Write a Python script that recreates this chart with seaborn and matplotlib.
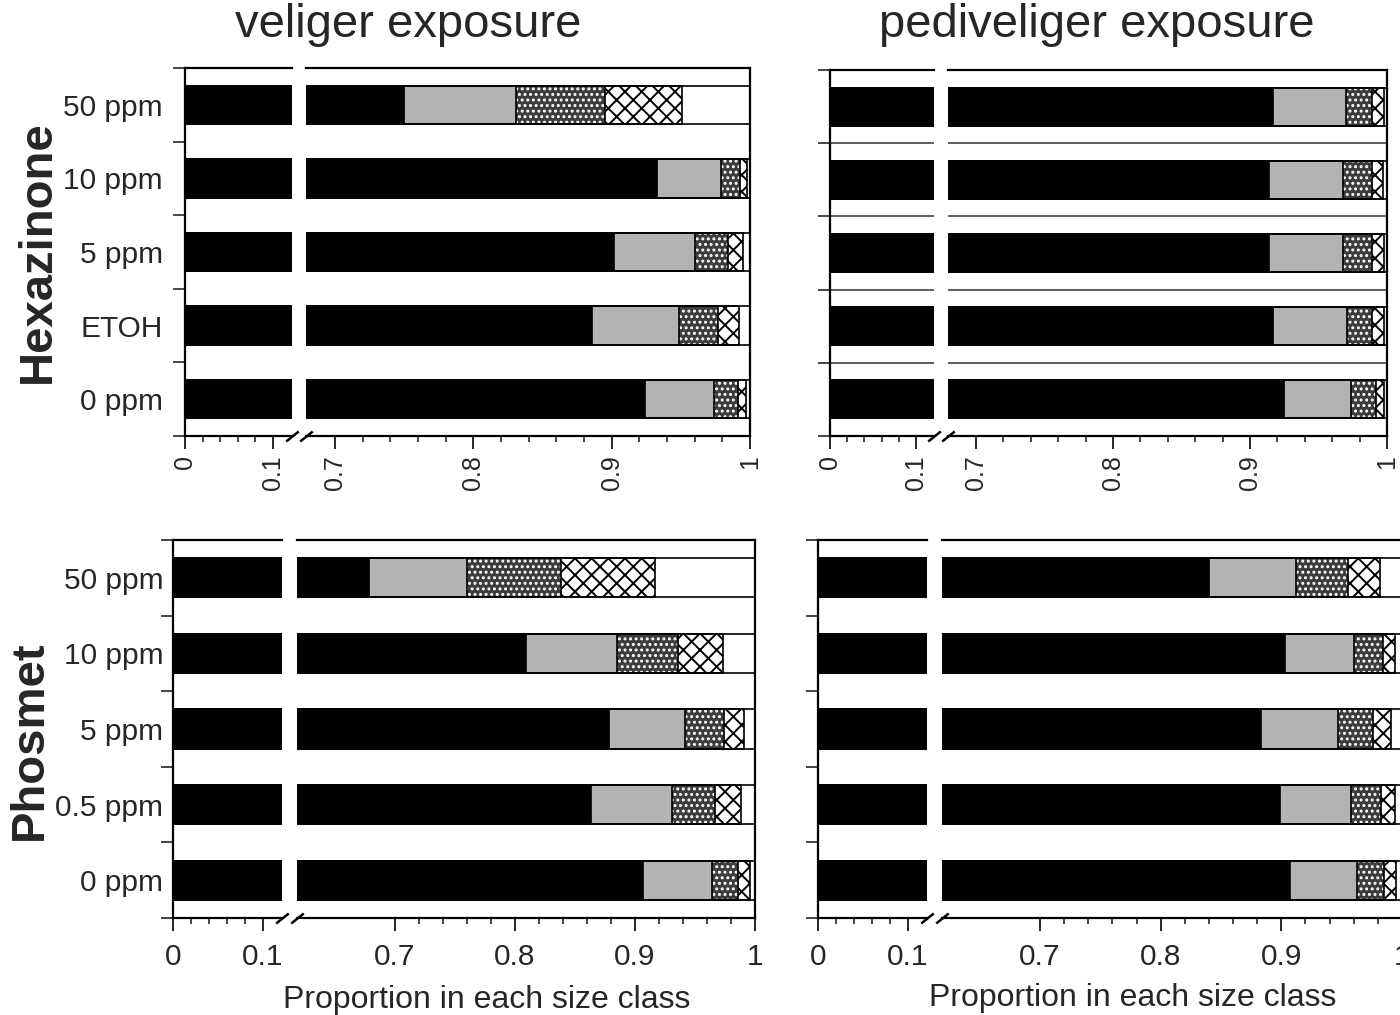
import numpy as np
import matplotlib.pyplot as plt
import seaborn as sns

sns.set_style("ticks")
plt.rcParams['font.family'] = ['Liberation Sans', 'DejaVu Sans']
plt.rcParams['hatch.linewidth'] = 1.4

# categories (top to bottom)
hex_cats = ["50 ppm", "10 ppm", "5 ppm", "ETOH", "0 ppm"]
pho_cats = ["50 ppm", "10 ppm", "5 ppm", "0.5 ppm", "0 ppm"]

# proportion in each size class (class 1 = smallest ... class 5)
vel_hex_c1 = [0.750, 0.933, 0.902, 0.886, 0.924]
vel_hex_c2 = [0.081, 0.046, 0.058, 0.063, 0.050]
vel_hex_c3 = [0.064, 0.014, 0.024, 0.028, 0.017]
vel_hex_c4 = [0.056, 0.005, 0.011, 0.015, 0.006]
vel_hex_c5 = [0.049, 0.002, 0.005, 0.008, 0.003]

ped_hex_c1 = [0.917, 0.914, 0.914, 0.917, 0.925]
ped_hex_c2 = [0.053, 0.054, 0.054, 0.054, 0.049]
ped_hex_c3 = [0.019, 0.021, 0.021, 0.018, 0.018]
ped_hex_c4 = [0.009, 0.008, 0.009, 0.009, 0.006]
ped_hex_c5 = [0.002, 0.003, 0.002, 0.002, 0.002]

vel_pho_c1 = [0.678, 0.809, 0.878, 0.863, 0.907]
vel_pho_c2 = [0.082, 0.076, 0.064, 0.068, 0.057]
vel_pho_c3 = [0.078, 0.051, 0.032, 0.036, 0.022]
vel_pho_c4 = [0.079, 0.037, 0.017, 0.021, 0.010]
vel_pho_c5 = [0.083, 0.027, 0.009, 0.012, 0.004]

ped_pho_c1 = [0.840, 0.903, 0.883, 0.899, 0.907]
ped_pho_c2 = [0.072, 0.057, 0.064, 0.059, 0.056]
ped_pho_c3 = [0.043, 0.024, 0.029, 0.025, 0.022]
ped_pho_c4 = [0.027, 0.010, 0.015, 0.011, 0.010]
ped_pho_c5 = [0.018, 0.006, 0.009, 0.006, 0.005]

left_ticks = [0, 0.1]
left_labels = ["0", "0.1"]
right_ticks = [0.7, 0.8, 0.9, 1.0]
right_labels = ["0.7", "0.8", "0.9", "1"]

# fill style per class: facecolor, hatch, hatch colour
class_styles = [("black", None, "black"),
                ("#b3b3b3", None, "#b3b3b3"),
                ("#3c3c3c", "...", "white"),
                ("white", "xx", "black"),
                ("white", None, "white")]

W, H = 1400, 1015
fig = plt.figure(figsize=(W / 100, H / 100), dpi=100)


def px_axes(x0, x1, y0, y1):
    return fig.add_axes([x0 / W, 1 - y1 / H, (x1 - x0) / W, (y1 - y0) / H])


def draw_panel(classes, cats, xl, xr, yb, lims, show_cats, rotate, grid):
    axL = px_axes(xl[0], xl[1], yb[0], yb[1])
    axR = px_axes(xr[0], xr[1], yb[0], yb[1])
    cum = np.cumsum(np.array(classes), axis=0)
    n = len(cats)
    for ax in (axL, axR):
        # stacked bars: draw cumulative totals from the outside in
        for level in range(len(classes) - 1, -1, -1):
            fc, hatch, hc = class_styles[level]
            sns.barplot(x=cum[level], y=cats, order=cats, orient="y",
                        color=fc, hatch=hatch, edgecolor=hc, linewidth=0,
                        width=0.52, saturation=1, errorbar=None, ax=ax)
        for level in range(len(classes)):
            sns.barplot(x=cum[level], y=cats, order=cats, orient="y",
                        color="black", fill=False, linewidth=1.2,
                        width=0.52, saturation=1, errorbar=None, ax=ax)
        ax.set_ylim(n - 0.5, -0.5)
        ax.set_xlabel("")
        ax.set_ylabel("")
        for sp in ax.spines.values():
            sp.set_linewidth(1.6)
            sp.set_color("black")
        ax.set_yticks(np.arange(n + 1) - 0.5, minor=True)
        if grid:
            ax.grid(which="minor", axis="y", color="#333333", lw=1.1)
            ax.set_axisbelow(True)
    axL.set_xlim(0, lims[0])
    axR.set_xlim(lims[1], 1.0)
    axL.spines["right"].set_visible(False)
    axR.spines["left"].set_visible(False)

    axL.set_xticks(left_ticks)
    axL.set_xticklabels(left_labels)
    axL.set_xticks([0.02, 0.04, 0.06, 0.08], minor=True)
    axR.set_xticks(right_ticks)
    axR.set_xticklabels(right_labels)
    axR.set_xticks([0.72, 0.74, 0.76, 0.78, 0.82, 0.84, 0.86, 0.88,
                    0.92, 0.94, 0.96, 0.98], minor=True)
    fs = 18 if rotate else 21.5
    for ax in (axL, axR):
        ax.tick_params(axis="x", which="major", length=9, width=1.4,
                       labelsize=fs, pad=5 if rotate else 9,
                       labelrotation=90 if rotate else 0)
        ax.tick_params(axis="x", which="minor", length=4, width=1.2)

    axL.set_yticks(range(n))
    axL.set_yticklabels(cats if show_cats else [])
    axL.tick_params(axis="y", which="major", length=0, labelsize=21.5,
                    pad=16 if rotate else 7)
    axL.tick_params(axis="y", which="minor", length=9, width=1.2)
    axR.tick_params(axis="y", which="both", length=0, labelleft=False)

    # break marks on the bottom spine
    mk = [(-1, -0.8), (1, 0.8)]
    axL.plot([1], [0], transform=axL.transAxes, marker=mk, markersize=9,
             mew=1.8, color="black", linestyle="none", clip_on=False)
    axR.plot([0], [0], transform=axR.transAxes, marker=mk, markersize=9,
             mew=1.8, color="black", linestyle="none", clip_on=False)
    return axL, axR


draw_panel([vel_hex_c1, vel_hex_c2, vel_hex_c3, vel_hex_c4, vel_hex_c5],
           hex_cats, (185, 292), (306, 750), (68, 436), (0.1216, 0.679),
           True, True, False)
draw_panel([ped_hex_c1, ped_hex_c2, ped_hex_c3, ped_hex_c4, ped_hex_c5],
           hex_cats, (830, 934), (948, 1387), (70, 436), (0.121, 0.6796),
           False, True, True)
draw_panel([vel_pho_c1, vel_pho_c2, vel_pho_c3, vel_pho_c4, vel_pho_c5],
           pho_cats, (173, 282), (297, 755), (540, 918), (0.121, 0.6183),
           True, False, False)
draw_panel([ped_pho_c1, ped_pho_c2, ped_pho_c3, ped_pho_c4, ped_pho_c5],
           pho_cats, (818, 927), (942, 1402), (540, 918), (0.121, 0.6188),
           False, False, False)

fig.text(408 / W, 1 - 25 / H, "veliger exposure", fontsize=34,
         ha="center", va="center")
fig.text(1097 / W, 1 - 25 / H, "pediveliger exposure", fontsize=34,
         ha="center", va="center")
fig.text(38 / W, 1 - 252 / H, "Hexazinone", fontsize=34, fontweight="bold",
         rotation=90, ha="center", va="center")
fig.text(30 / W, 1 - 740 / H, "Phosmet", fontsize=34, fontweight="bold",
         rotation=90, ha="center", va="center")
fig.text(487 / W, 1 - 1000 / H, "Proportion in each size class",
         fontsize=23, ha="center", va="center")
fig.text(1133 / W, 1 - 998 / H, "Proportion in each size class",
         fontsize=23, ha="center", va="center")

fig.savefig("out.png", dpi=100)
